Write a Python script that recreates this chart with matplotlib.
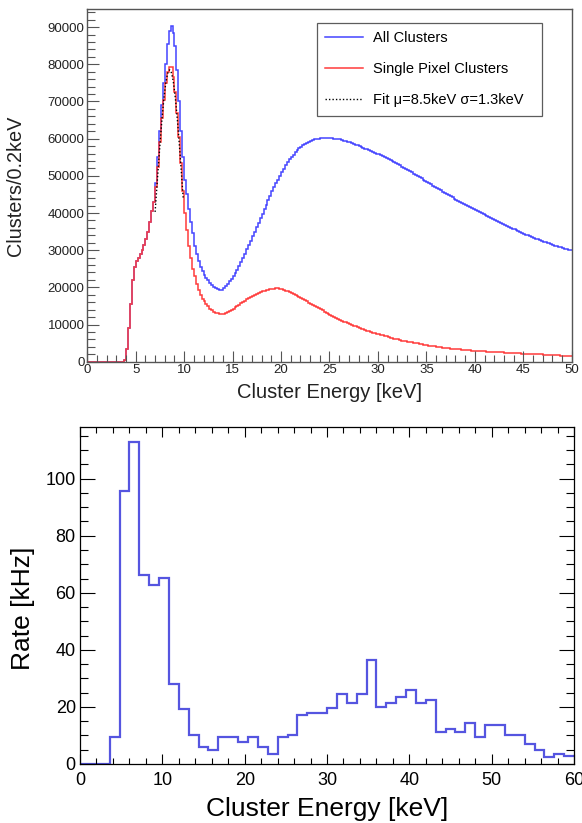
import matplotlib
matplotlib.use('Agg')
import matplotlib.pyplot as plt
from matplotlib.ticker import MultipleLocator
import numpy as np

plt.rcParams['font.family'] = ['Liberation Sans', 'DejaVu Sans']

# ---- top panel: cluster energy spectra, 0.2 keV bins from 0 to 50 keV (counts in thousands)
e_lo, e_hi, n_bins = 0.0, 50.0, 250

single_pixel = [
    0, 0, 0, 0, 0,
    0, 0, 0, 0, 0,
    0, 0, 0, 0, 0,
    0, 0, 0, 0, 0.4,
    3.5, 9, 15.5, 22, 25.5,
    27, 28, 29, 30, 31.5,
    33, 35, 37.5, 40.5, 43,
    47, 52.5, 59, 65.5, 70.5,
    75, 78, 79.4, 79.2, 76.5,
    72.5, 67, 60.5, 53.5, 46,
    40, 35.5, 31, 28, 25,
    23, 21, 19.2, 18, 17,
    16.2, 15.5, 14.9, 14.3, 13.9,
    13.5, 13.2, 13.0, 12.8, 12.8,
    12.9, 13.1, 13.3, 13.6, 13.9,
    14.2, 14.6, 15.0, 15.3, 15.7,
    16.1, 16.4, 16.8, 17.1, 17.4,
    17.7, 18.0, 18.3, 18.5, 18.8,
    18.9, 19.1, 19.2, 19.4, 19.5,
    19.6, 19.6, 19.7, 19.7, 19.6,
    19.5, 19.3, 19.1, 18.9, 18.7,
    18.5, 18.2, 17.9, 17.7, 17.4,
    17.1, 16.8, 16.5, 16.2, 15.9,
    15.6, 15.3, 15.0, 14.7, 14.4,
    14.1, 13.8, 13.5, 13.2, 12.9,
    12.6, 12.3, 12.0, 11.8, 11.5,
    11.3, 11.0, 10.8, 10.6, 10.3,
    10.1, 9.9, 9.7, 9.5, 9.3,
    9.1, 8.9, 8.7, 8.5, 8.3,
    8.2, 8.0, 7.8, 7.7, 7.5,
    7.4, 7.2, 7.1, 6.9, 6.8,
    6.6, 6.5, 6.4, 6.2, 6.1,
    6.0, 5.8, 5.7, 5.6, 5.5,
    5.4, 5.3, 5.2, 5.1, 5.0,
    4.9, 4.8, 4.7, 4.6, 4.5,
    4.4, 4.35, 4.25, 4.2, 4.1,
    4.0, 3.95, 3.9, 3.8, 3.75,
    3.7, 3.6, 3.55, 3.5, 3.45,
    3.4, 3.35, 3.3, 3.25, 3.2,
    3.15, 3.1, 3.05, 3.0, 2.95,
    2.90, 2.87, 2.84, 2.81, 2.78,
    2.75, 2.72, 2.69, 2.66, 2.63,
    2.60, 2.57, 2.54, 2.51, 2.48,
    2.45, 2.42, 2.39, 2.36, 2.33,
    2.30, 2.28, 2.25, 2.23, 2.20,
    2.18, 2.15, 2.13, 2.10, 2.08,
    2.05, 2.02, 2.00, 1.97, 1.95,
    1.92, 1.89, 1.87, 1.84, 1.82,
    1.79, 1.76, 1.73, 1.70, 1.67,
    1.64, 1.61, 1.58, 1.55, 1.52,
]

all_clusters = [
    0, 0, 0, 0, 0,
    0, 0, 0, 0, 0,
    0, 0, 0, 0, 0,
    0, 0, 0, 0, 0.4,
    3.5, 9, 15.5, 22, 25.5,
    27, 28, 29, 30, 31.5,
    33, 35, 37.5, 40.5, 43,
    48, 55, 62, 69, 75,
    80, 85.5, 89, 90.2, 88.5,
    85, 78.5, 70, 62, 55,
    49, 45, 41, 37.5, 34.5,
    31, 29, 27, 25.6, 24.4,
    23.4, 22.6, 21.9, 21.2, 20.6,
    20.2, 19.9, 19.6, 19.4, 19.4,
    19.8, 20.3, 20.9, 21.6, 22.3,
    23.0, 23.9, 24.8, 25.8, 26.8,
    27.9, 29.0, 30.2, 31.4, 32.6,
    33.8, 35.0, 36.2, 37.4, 38.6,
    39.8, 41.0, 42.2, 43.4, 44.6,
    45.8, 46.9, 48.0, 49.0, 50.0,
    51.0, 51.9, 52.8, 53.6, 54.4,
    55.1, 55.7, 56.3, 56.9, 57.4,
    57.8, 58.2, 58.6, 58.9, 59.2,
    59.4, 59.6, 59.8, 59.9, 60.0,
    60.1, 60.2, 60.2, 60.3, 60.2,
    60.2, 60.1, 60.0, 59.9, 59.9,
    59.8, 59.6, 59.5, 59.3, 59.2,
    59.0, 58.8, 58.6, 58.4, 58.2,
    58.0, 57.8, 57.6, 57.3, 57.1,
    56.9, 56.7, 56.5, 56.2, 56.0,
    55.8, 55.5, 55.3, 55.0, 54.8,
    54.5, 54.2, 54.0, 53.7, 53.4,
    53.1, 52.8, 52.5, 52.2, 51.9,
    51.6, 51.3, 51.0, 50.6, 50.3,
    50.0, 49.7, 49.4, 49.0, 48.7,
    48.4, 48.1, 47.7, 47.4, 47.0,
    46.7, 46.4, 46.1, 45.7, 45.4,
    45.1, 44.8, 44.5, 44.2, 43.9,
    43.6, 43.3, 43.0, 42.8, 42.5,
    42.2, 41.9, 41.6, 41.4, 41.1,
    40.8, 40.5, 40.2, 40.0, 39.7,
    39.4, 39.1, 38.9, 38.6, 38.4,
    38.1, 37.8, 37.6, 37.3, 37.1,
    36.8, 36.6, 36.3, 36.1, 35.8,
    35.6, 35.4, 35.1, 34.9, 34.6,
    34.4, 34.2, 34.0, 33.7, 33.5,
    33.3, 33.1, 32.9, 32.7, 32.5,
    32.3, 32.1, 31.9, 31.8, 31.6,
    31.4, 31.2, 31.1, 30.9, 30.8,
    30.6, 30.4, 30.3, 30.1, 30.0,
]

# gaussian fit curve as drawn (keV, thousands)
fit_x = [7.0, 7.1, 7.2, 7.3, 7.4, 7.5, 7.6, 7.7, 7.8, 7.9, 8.0, 8.1, 8.2, 8.3, 8.4,
         8.5, 8.6, 8.7, 8.8, 8.9, 9.0, 9.1, 9.2, 9.3, 9.4, 9.5, 9.6, 9.7, 9.8, 9.9]
fit_y = [40.3, 44.0, 47.6, 51.3, 54.9, 58.4, 61.8, 65.0, 67.9, 70.6, 72.9, 74.9, 76.4, 77.6, 78.3,
         78.5, 78.3, 77.6, 76.4, 74.9, 72.9, 70.6, 67.9, 65.0, 61.8, 58.4, 54.9, 51.3, 47.6, 44.0]

# ---- bottom panel: rate per 1.2 keV bin, 0 to 60 keV
rate_lo, rate_hi = 0.0, 60.0
rate_khz = [0, 0, 0, 9.3, 95.7, 112.7, 66.4, 62.7, 65.2, 27.9,
            19.2, 10.1, 5.8, 4.9, 9.3, 9.3, 7.8, 9.3, 5.8, 3.5,
            9.3, 10.1, 17.1, 18, 18, 19.5, 24.5, 21.5, 24.5, 36.6,
            20.0, 21.4, 23.5, 25.8, 21.4, 22.3, 11.3, 12.3, 11.3, 14.4,
            9.3, 13.5, 13.5, 10.1, 10.1, 7.0, 4.9, 2.6, 3.5, 2.8]

fig = plt.figure(figsize=(5.82, 8.23), dpi=100)

# top panel
ax1 = fig.add_axes([0.150, 0.5605, 0.8323, 0.4282])
edges = np.linspace(e_lo, e_hi, n_bins + 1)
ax1.stairs(np.array(all_clusters) * 1000, edges, baseline=None, color='#4444ff', lw=1.1,
           label='All Clusters')
ax1.stairs(np.array(single_pixel) * 1000, edges, baseline=None, color='#ff3b3b', lw=1.1,
           label='Single Pixel Clusters')
ax1.plot(fit_x, np.array(fit_y) * 1000, color='black', ls=(0, (1, 1.5)), lw=1.0,
         label='Fit \u03bc=8.5keV \u03c3=1.3keV')
ax1.set_xlim(0, 50)
ax1.set_ylim(0, 94800)
ax1.xaxis.set_major_locator(MultipleLocator(5))
ax1.xaxis.set_minor_locator(MultipleLocator(1))
ax1.yaxis.set_major_locator(MultipleLocator(10000))
ax1.yaxis.set_minor_locator(MultipleLocator(2000))
for s in ax1.spines.values():
    s.set_color('#555555')
    s.set_linewidth(1.0)
ax1.tick_params(which='both', direction='in', color='#555555', width=0.8,
                labelsize=9.5, labelcolor='#222222', pad=2)
ax1.tick_params(axis='x', which='major', length=8)
ax1.tick_params(axis='x', which='minor', length=5)
ax1.tick_params(axis='y', which='major', length=8.5)
ax1.tick_params(axis='y', which='minor', length=5.5)
ax1.set_xlabel('Cluster Energy [keV]', fontsize=14.5, color='#222222')
ax1.set_ylabel('Clusters/0.2keV', fontsize=14.3, color='#222222')
ax1.xaxis.set_label_coords(0.5, -0.061)
ax1.yaxis.set_label_coords(-0.129, 0.5)
leg = ax1.legend(loc='upper left', bbox_to_anchor=(0.4736, 0.70, 0.4644, 0.262),
                 mode='expand', borderaxespad=0, fontsize=10.5, fancybox=False,
                 edgecolor='#333333', handlelength=2.6, handletextpad=0.66,
                 labelspacing=1.15, borderpad=0.6)
leg.get_frame().set_linewidth(0.9)

# bottom panel
ax2 = fig.add_axes([0.1375, 0.0717, 0.8488, 0.4091])
rate_edges = np.linspace(rate_lo, rate_hi, len(rate_khz) + 1)
ax2.stairs(rate_khz, rate_edges, baseline=None, color='#5555e0', lw=1.6)
ax2.set_xlim(0, 60)
ax2.set_ylim(0, 118)
ax2.xaxis.set_major_locator(MultipleLocator(10))
ax2.xaxis.set_minor_locator(MultipleLocator(2))
ax2.yaxis.set_major_locator(MultipleLocator(20))
ax2.yaxis.set_minor_locator(MultipleLocator(5))
for s in ax2.spines.values():
    s.set_color('black')
    s.set_linewidth(0.9)
ax2.tick_params(which='both', direction='in', top=True, right=True, width=0.8,
                labelsize=13, pad=3)
ax2.tick_params(axis='x', which='major', length=7.5, pad=6)
ax2.tick_params(axis='x', which='minor', length=4)
ax2.tick_params(axis='y', which='major', length=11)
ax2.tick_params(axis='y', which='minor', length=5.5)
ax2.set_xlabel('Cluster Energy [keV]', fontsize=19)
ax2.set_ylabel('Rate [kHz]', fontsize=19)
ax2.xaxis.set_label_coords(0.5, -0.097)
ax2.yaxis.set_label_coords(-0.092, 0.462)

fig.savefig('out.png', dpi=100)
